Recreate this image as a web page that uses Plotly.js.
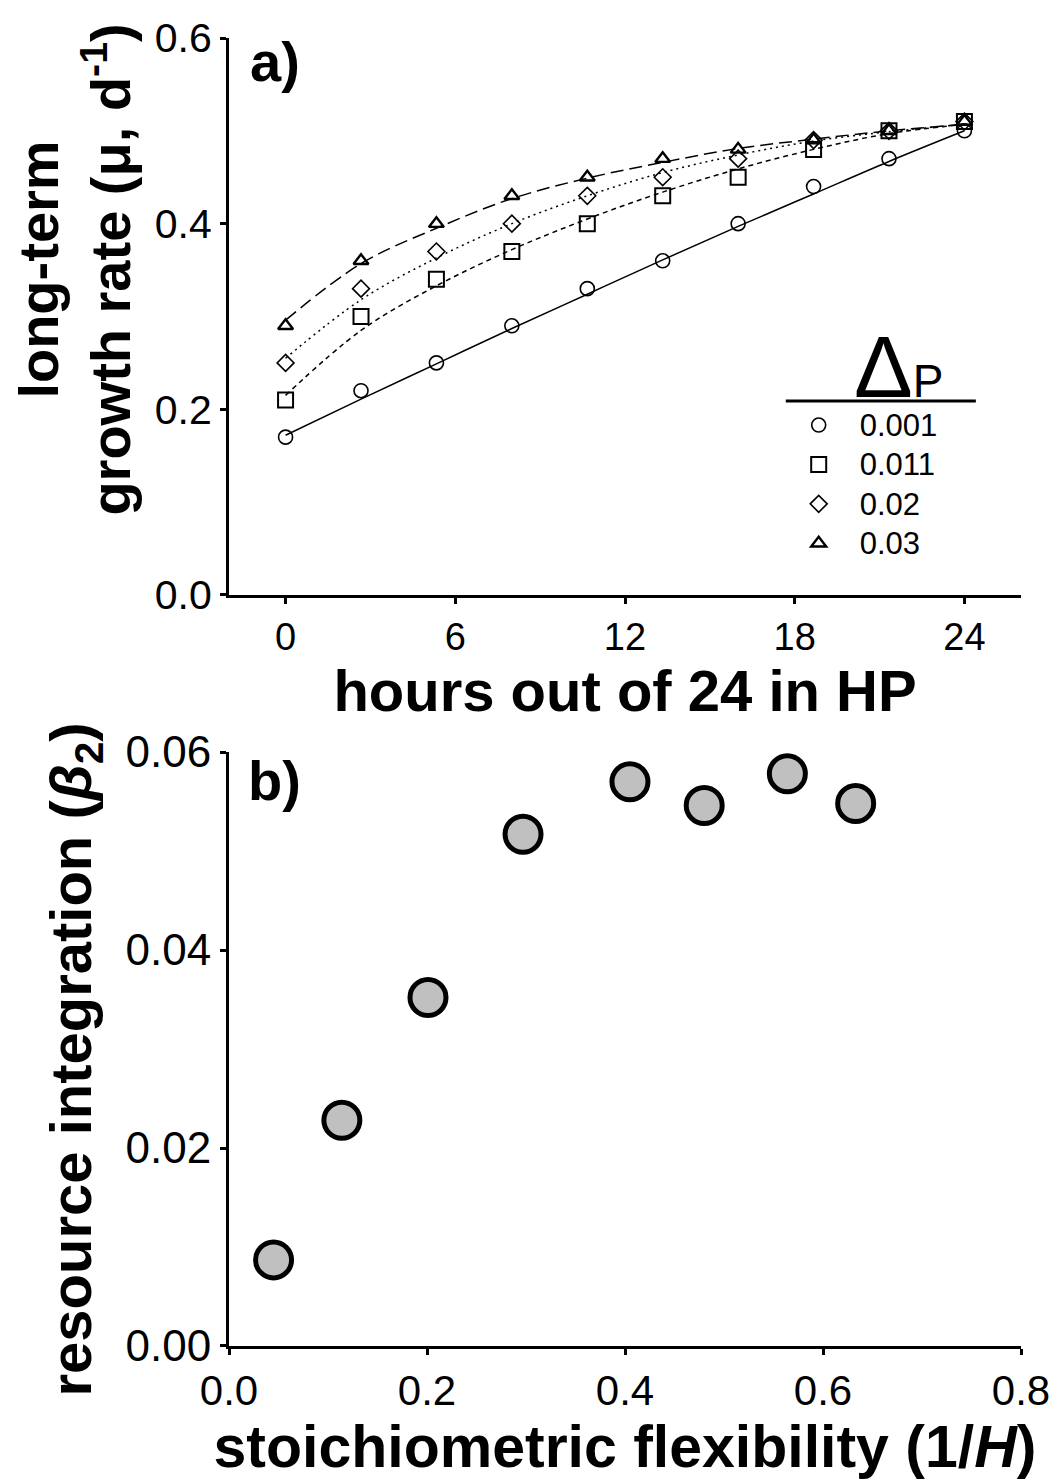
<!DOCTYPE html>
<html>
<head>
<meta charset="utf-8">
<script src="https://cdn.plot.ly/plotly-3.0.1.min.js"></script>
<style>html,body{margin:0;padding:0;background:#fff;}</style>
</head>
<body>
<div id="chart" style="width:1059px;height:1480px;"></div>
<script>
// ---- Panel a data ----
const hours = [0, 2.667, 5.333, 8, 10.667, 13.333, 16, 18.667, 21.333, 24];
const seriesNames = ["0.001", "0.011", "0.02", "0.03"];
const muCircle   = [0.17, 0.22, 0.25, 0.29, 0.33, 0.36, 0.40, 0.44, 0.47, 0.50];
const muSquare   = [0.21, 0.30, 0.34, 0.37, 0.40, 0.43, 0.45, 0.48, 0.50, 0.51];
const muDiamond  = [0.25, 0.33, 0.37, 0.40, 0.43, 0.45, 0.47, 0.49, 0.50, 0.51];
const muTriangle = [0.29, 0.36, 0.40, 0.43, 0.45, 0.47, 0.48, 0.49, 0.50, 0.51];
// fitted curves at the same hours
const fitCircle   = [0.172, 0.211, 0.249, 0.287, 0.324, 0.361, 0.397, 0.432, 0.467, 0.500];
const fitSquare   = [0.215, 0.285, 0.333, 0.372, 0.405, 0.434, 0.459, 0.480, 0.497, 0.507];
const fitDiamond  = [0.255, 0.318, 0.363, 0.400, 0.430, 0.455, 0.474, 0.489, 0.499, 0.507];
const fitTriangle = [0.296, 0.357, 0.395, 0.427, 0.449, 0.466, 0.481, 0.491, 0.500, 0.507];
const xTicksA = [0, 6, 12, 18, 24];
const yTicksA = [0, 0.2, 0.4, 0.6];

// ---- Panel b data ----
const flexibility = [0.045, 0.114, 0.201, 0.297, 0.405, 0.480, 0.564, 0.633];
const integration = [0.0087, 0.0228, 0.0352, 0.0517, 0.0570, 0.0546, 0.0578, 0.0548];
const xTicksB = [0, 0.2, 0.4, 0.6, 0.8];
const yTicksB = [0, 0.02, 0.04, 0.06];

const FONT = "Liberation Sans, Arial, Helvetica, sans-serif";

const muSeries = [muCircle, muSquare, muDiamond, muTriangle];
const fitSeries = [fitCircle, fitSquare, fitDiamond, fitTriangle];
const symbols = ["circle-open", "square-open", "diamond-open", "triangle-up-open"];
const msizes = [14, 15, 13, 13];
const mwidths = [1.6, 2, 1.6, 2.4];
const dashes = ["solid", "5px,4px", "2px,4px", "13px,6px"];

const traces = [];
for (let i = 0; i < 4; i++) {
  traces.push({
    x: hours, y: fitSeries[i], xaxis: "x", yaxis: "y",
    mode: "lines", line: {color: "#000", width: 1.5, dash: dashes[i], shape: "spline", smoothing: 1},
    showlegend: false, hoverinfo: "skip"
  });
}
for (let i = 0; i < 4; i++) {
  traces.push({
    x: hours, y: muSeries[i], xaxis: "x", yaxis: "y",
    mode: "markers", name: '<span style="font-size:31px">' + seriesNames[i] + '</span>',
    marker: {symbol: symbols[i], size: msizes[i], color: "#000", line: {color: "#000", width: mwidths[i]}},
    showlegend: true, legendrank: i + 1
  });
}
traces.push({
  x: flexibility, y: integration, xaxis: "x2", yaxis: "y2",
  mode: "markers", showlegend: false,
  marker: {symbol: "circle", size: 36, color: "#c0c0c0", line: {color: "#000", width: 5}}
});

const axisCommon = {
  showline: true, linecolor: "#000", linewidth: 3,
  ticks: "outside", ticklen: 6, tickwidth: 3, tickcolor: "#000",
  showgrid: false, zeroline: false, mirror: false,
  tickfont: {family: FONT, size: 38, color: "#000"}
};

const layout = {
  width: 1059, height: 1480,
  margin: {l: 229, r: 38, t: 38, b: 134},
  paper_bgcolor: "#fff", plot_bgcolor: "#fff",
  font: {family: FONT, color: "#000"},
  xaxis: Object.assign({}, axisCommon, {
    domain: [0, 1], anchor: "y", range: [-2, 26], tickvals: xTicksA,
    ticktext: xTicksA.map(String),
    tickfont: {family: FONT, size: 38, color: "#000"},
    title: {text: "hours out of 24 in HP", font: {family: FONT, size: 58, color: "#000", weight: "bold"}, standoff: 0}
  }),
  yaxis: Object.assign({}, axisCommon, {
    domain: [0.5742, 1], anchor: "x", range: [0, 0.6], tickvals: yTicksA,
    ticktext: yTicksA.map(v => v.toFixed(1)),
    tickfont: {family: FONT, size: 41, color: "#000"}
  }),
  xaxis2: Object.assign({}, axisCommon, {
    domain: [0, 1], anchor: "y2", range: [0, 0.8], tickvals: xTicksB,
    ticktext: xTicksB.map(v => v.toFixed(1)),
    tickfont: {family: FONT, size: 42, color: "#000"},
    title: {text: "stoichiometric flexibility (1/<i>H</i>)", font: {family: FONT, size: 59, color: "#000", weight: "bold"}, standoff: 4}
  }),
  yaxis2: Object.assign({}, axisCommon, {
    domain: [0, 0.4541], anchor: "x2", range: [0, 0.06], tickvals: yTicksB,
    ticktext: yTicksB.map(v => v.toFixed(2)),
    tickfont: {family: FONT, size: 44, color: "#000"}
  }),
  legend: {
    x: 0.6928, y: 0.723, xanchor: "left", yanchor: "top",
    font: {family: FONT, size: 28, color: "#000"},
    bgcolor: "rgba(0,0,0,0)", tracegroupgap: 0, itemwidth: 72,
    traceorder: "normal"
  },
  shapes: [
    {type: "line", xref: "paper", yref: "paper", x0: 0.703, x1: 0.943, y0: 0.7225, y1: 0.7225, line: {color: "#000", width: 3}}
  ],
  annotations: [
    {text: "long-term<br>growth rate (μ, d<sup>-1</sup>)", xref: "paper", yref: "paper", x: -0.195, y: 0.8226,
     xanchor: "center", yanchor: "middle", textangle: -90, showarrow: false, align: "center",
     font: {family: FONT, size: 56, color: "#000", weight: "bold"}},
    {text: "resource integration (<i>β</i><sub>2</sub>)", xref: "paper", yref: "paper", x: -0.195, y: 0.2187,
     xanchor: "center", yanchor: "middle", textangle: -90, showarrow: false,
     font: {family: FONT, size: 58, color: "#000", weight: "bold"}},
    {text: "a)", xref: "paper", yref: "paper", x: 0.024, y: 0.9824, xanchor: "left", yanchor: "middle", showarrow: false,
     font: {family: FONT, size: 56, color: "#000", weight: "bold"}},
    {text: "b)", xref: "paper", yref: "paper", x: 0.022, y: 0.4327, xanchor: "left", yanchor: "middle", showarrow: false,
     font: {family: FONT, size: 56, color: "#000", weight: "bold"}},
    {text: "Δ<span style=\"font-size:46px\">P</span>", xref: "paper", yref: "paper", x: 0.845, y: 0.7485, xanchor: "center", yanchor: "middle", showarrow: false,
     font: {family: FONT, size: 88, color: "#000"}}
  ]
};

Plotly.newPlot("chart", traces, layout, {staticPlot: true, displayModeBar: false});
</script>
</body>
</html>
